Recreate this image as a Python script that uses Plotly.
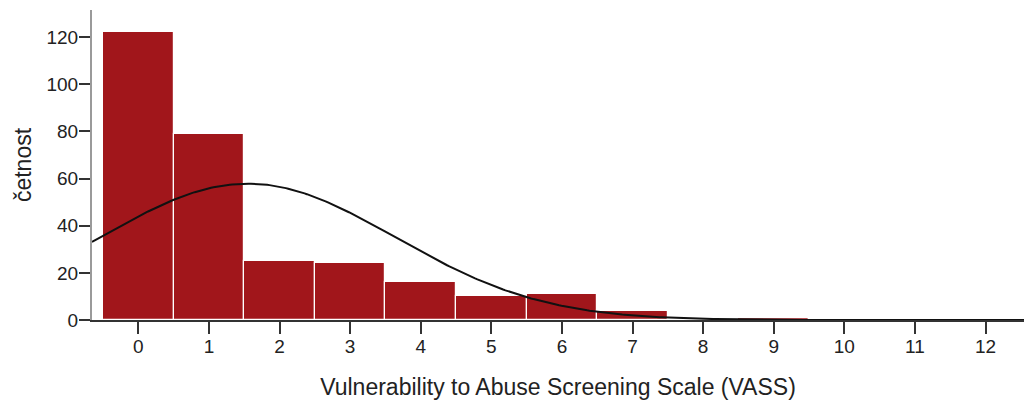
import numpy as np
import plotly.graph_objects as go

# Data
categories = [0, 1, 2, 3, 4, 5, 6, 7, 8, 9, 10, 11]
counts = [122, 79, 25, 24, 16, 10, 11, 4, 0.5, 1, 0.3, 0.3]
x_tick_vals = list(range(0, 13))
y_tick_vals = [0, 20, 40, 60, 80, 100, 120]

# Normal curve parameters
curve_mean = 1.55
curve_sd = 2.09
curve_n = 303

x_range = [-0.656, 12.545]
y_range = [0, 131.5]

xs = np.linspace(x_range[0], x_range[1], 400)
ys = curve_n / (curve_sd * np.sqrt(2 * np.pi)) * np.exp(-((xs - curve_mean) ** 2) / (2 * curve_sd ** 2))

fig = go.Figure()
fig.add_trace(go.Bar(
    x=categories, y=counts, width=1,
    marker=dict(color="#a1161b", line=dict(color="white", width=1.2)),
    showlegend=False, hoverinfo="x+y",
))
fig.add_trace(go.Scatter(
    x=xs, y=ys, mode="lines",
    line=dict(color="#111111", width=2),
    showlegend=False, hoverinfo="skip",
))

font_family = "Liberation Sans, Arial, sans-serif"
fig.update_layout(
    width=1024, height=400,
    margin=dict(l=92, r=0, t=10, b=80),
    paper_bgcolor="white", plot_bgcolor="white",
    font=dict(family=font_family, color="#222222", size=19),
    bargap=0,
    xaxis=dict(
        range=x_range, tickvals=x_tick_vals, ticktext=[str(v) for v in x_tick_vals],
        automargin=False,
        showgrid=False, zeroline=False,
        showline=True, linecolor="#333333", linewidth=1.5,
        ticks="outside", ticklen=12, tickwidth=2, tickcolor="#333333",
        tickfont=dict(size=19), ticklabelstandoff=-4,
        title=dict(text="Vulnerability to Abuse Screening Scale (VASS)", font=dict(size=23), standoff=23),
    ),
    yaxis=dict(
        range=y_range, tickvals=y_tick_vals,
        automargin=False,
        showgrid=False, zeroline=False,
        showline=True, linecolor="#9a9a9a", linewidth=2,
        ticks="outside", ticklen=11, tickwidth=2, tickcolor="#333333",
        tickfont=dict(size=19), ticklabelstandoff=-3,
        title=dict(text="četnost", font=dict(size=23), standoff=8),
    ),
)

fig.write_html(
    "out.html",
    config={"displayModeBar": False},
    post_script="document.body.style.margin='0';document.body.style.overflow='hidden';",
)
